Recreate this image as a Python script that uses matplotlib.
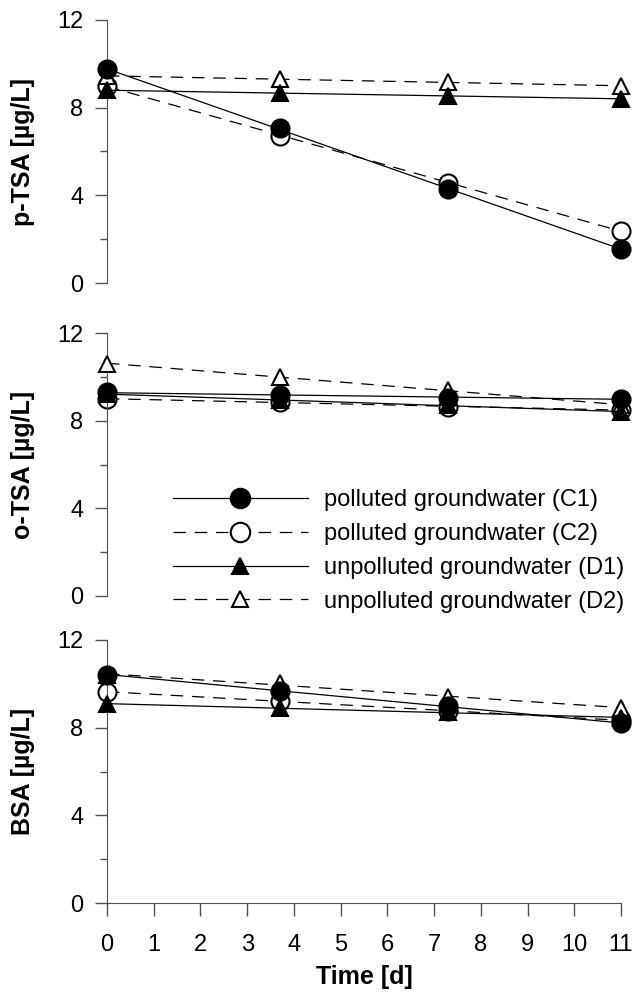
import matplotlib
matplotlib.use("Agg")
import matplotlib.pyplot as plt
import numpy as np
from matplotlib.ticker import MultipleLocator

# sampling days
days = [0, 3.7, 7.3, 11]

# p-TSA [ug/L]
ptsa_c1 = [9.75, 7.05, 4.28, 1.55]
ptsa_c2 = [9.0, 6.7, 4.58, 2.38]
ptsa_d1 = [8.8, 8.65, 8.55, 8.4]
ptsa_d2 = [9.45, 9.3, 9.15, 9.0]

# o-TSA [ug/L]
otsa_c1 = [9.3, 9.15, 9.05, 9.0]
otsa_c2 = [9.0, 8.85, 8.62, 8.5]
otsa_d1 = [9.2, 8.95, 8.7, 8.4]
otsa_d2 = [10.6, 10.0, 9.4, 8.7]

# BSA [ug/L]
bsa_c1 = [10.42, 9.68, 8.98, 8.2]
bsa_c2 = [9.65, 9.2, 8.75, 8.35]
bsa_d1 = [9.08, 8.9, 8.7, 8.45]
bsa_d2 = [10.4, 10.05, 9.4, 8.9]

labels = ['polluted groundwater (C1)', 'polluted groundwater (C2)',
          'unpolluted groundwater (D1)', 'unpolluted groundwater (D2)']
ylabels = ['p-TSA [µg/L]', 'o-TSA [µg/L]', 'BSA [µg/L]']

plt.rcParams['font.family'] = ['Liberation Sans', 'DejaVu Sans']

fig = plt.figure(figsize=(6.43, 9.97), dpi=100)
left = 107 / 643
width = 514 / 643
h = 263 / 997
bottoms = [1 - 283 / 997, 1 - 596 / 997, 1 - 903 / 997]

dash = (0, (10, 7))
styles = [  # marker, fill, linestyle, marker size, zorder
    ('o', 'black', '-', 13, 5),
    ('o', 'white', dash, 13, 2),
    ('^', 'black', '-', 11, 4),
    ('^', 'white', dash, 11, 3),
]
spine_col = '#505050'

panels = [
    [ptsa_c1, ptsa_c2, ptsa_d1, ptsa_d2],
    [otsa_c1, otsa_c2, otsa_d1, otsa_d2],
    [bsa_c1, bsa_c2, bsa_d1, bsa_d2],
]

x = np.array(days)
xx = np.array([0, 11])
axes = []
for i, series in enumerate(panels):
    ax = fig.add_axes([left, bottoms[i], width, h])
    axes.append(ax)
    handles = []
    for s, (mk, fc, ls, ms, z) in zip(series, styles):
        # trend line (linear fit) + measured points
        k, b = np.polyfit(x, s, 1)
        ax.plot(xx, k * xx + b, color='black', lw=0.9, linestyle=ls, zorder=z, clip_on=False)
        ax.plot(x, s, linestyle='none', marker=mk, ms=ms, mfc=fc, mec='black', mew=1.5,
                zorder=z + 0.5, clip_on=False)
        hnd, = ax.plot([], [], color='black', lw=0.9, linestyle=ls, marker=mk, ms=ms + 1,
                       mfc=fc, mec='black', mew=1.5)
        handles.append(hnd)

    ax.set_xlim(0, 11)
    ax.set_ylim(0, 12)
    ax.yaxis.set_major_locator(MultipleLocator(4))
    ax.yaxis.set_minor_locator(MultipleLocator(2))
    ax.tick_params(axis='y', which='major', length=9, width=1, color=spine_col, labelsize=17, pad=8)
    ax.tick_params(axis='y', which='minor', length=5, width=1, color=spine_col)
    ax.spines['top'].set_visible(False)
    ax.spines['right'].set_visible(False)
    ax.spines['left'].set_color(spine_col)
    ax.set_ylabel(ylabels[i], fontsize=18, fontweight='bold')
    ax.yaxis.set_label_coords(-0.14, 0.5)
    if i < 2:
        ax.spines['bottom'].set_visible(False)
        ax.set_xticks([])
    else:
        ax.spines['bottom'].set_color(spine_col)
        ax.set_xticks(range(12))
        ax.tick_params(axis='x', length=9, width=1, color=spine_col, labelsize=17, pad=13)
        ax.set_xlabel('Time [d]', fontsize=18, fontweight='bold', labelpad=7)
    if i == 1:
        ax.legend(handles, labels, loc='center left', frameon=False, fontsize=17,
                  bbox_to_anchor=(173 / 643, 1 - 551 / 997), bbox_transform=fig.transFigure,
                  handlelength=5.7, handletextpad=0.68, labelspacing=0.5,
                  borderpad=0, borderaxespad=0)

fig.savefig('out.png', dpi=100)
